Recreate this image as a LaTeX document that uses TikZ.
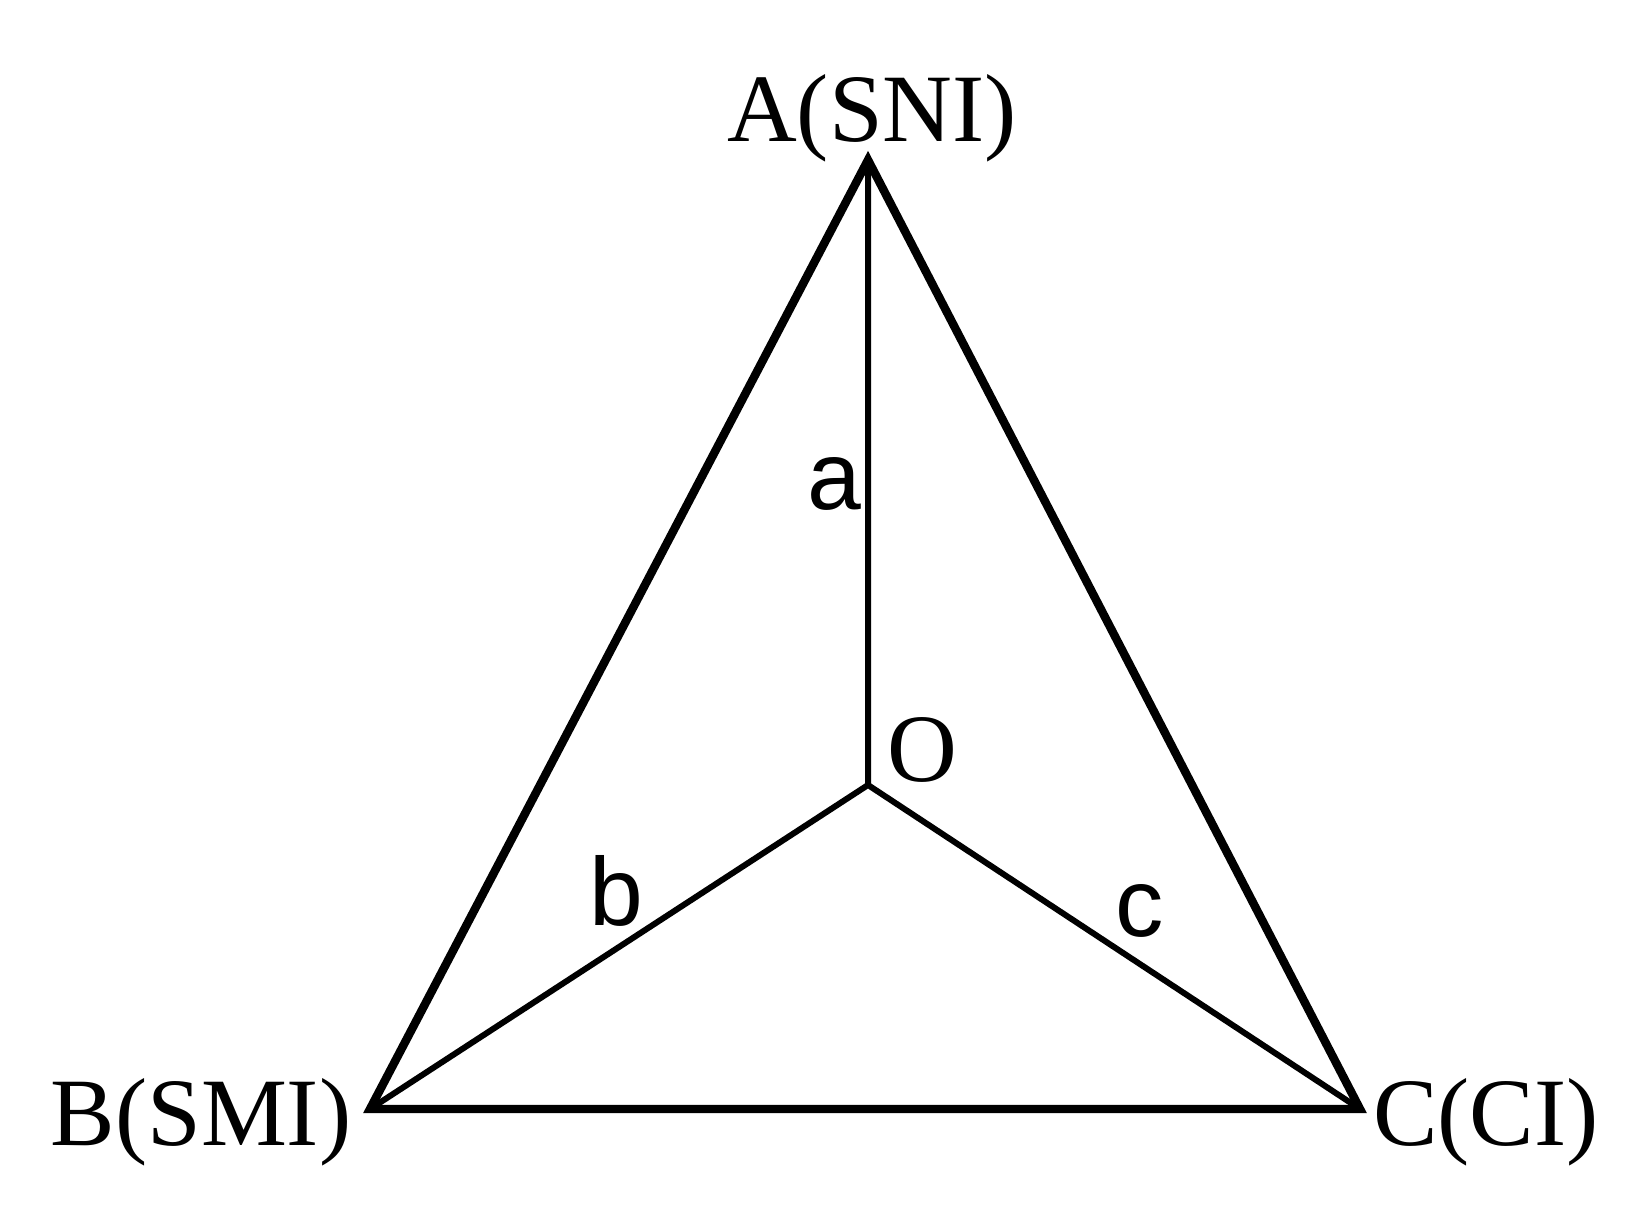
\documentclass[tikz,border=0pt]{standalone}
\usepackage{fontspec}
\setmainfont{Liberation Serif}
\newfontfamily\edgefont{Liberation Sans}

\begin{document}
\begin{tikzpicture}

\tikzstyle{myvertex}=[
  font=\fontsize{27.5}{33}\selectfont,
  inner sep=0pt,
  anchor=base]

\tikzstyle{myedgelabel}=[
  font=\edgefont\fontsize{27.5}{33}\selectfont,
  inner sep=0pt,
  anchor=base]

\tikzstyle{myside}=[line width=2.4pt, line join=miter]

\tikzstyle{myspoke}=[line width=1.7pt]

\useasboundingbox (0,0) rectangle (16.43,12.18);

% define points
\path
  (8.68,10.58) coordinate(A)
  (3.70,1.09) coordinate(B)
  (13.60,1.09) coordinate(C)
  (8.68,4.33) coordinate(O)
  ;

\node[myvertex] (LA) at (8.72,10.76) {A(SNI)};
\node[myvertex] (LB) at (2.01,0.73) {B(SMI)};
\node[myvertex] (LC) at (14.86,0.73) {C(CI)};
\node[myvertex] (LO) at (9.22,4.37) {O};

\node[myedgelabel] (la) at (8.34,7.08) {a};
\node[myedgelabel] (lb) at (6.16,2.93) {b};
\node[myedgelabel] (lc) at (11.40,2.82) {c};

% draw lines
\draw[myside]
  (A) -- (B) -- (C) -- cycle
  ;

\draw[myspoke]
  (A) -- (O)
  (B) -- (O)
  (C) -- (O)
  ;

\end{tikzpicture}
\end{document}
